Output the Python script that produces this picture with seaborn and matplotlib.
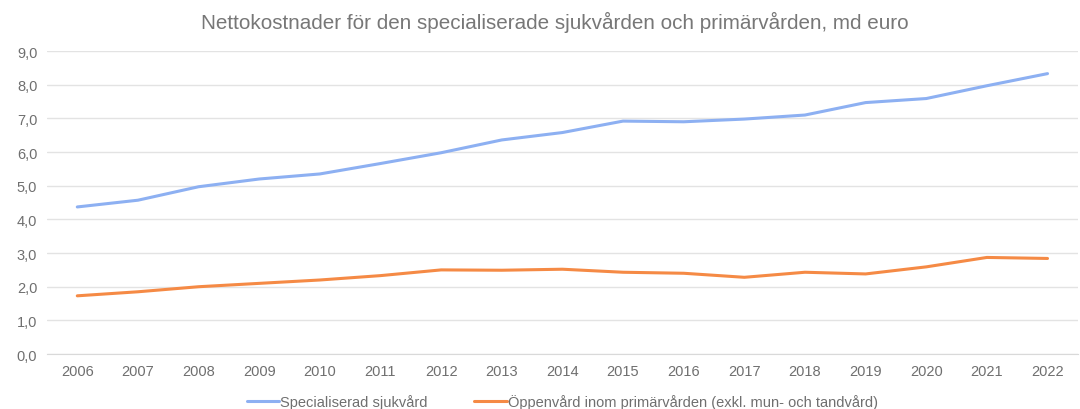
import matplotlib
matplotlib.use("Agg")
import matplotlib.pyplot as plt
import seaborn as sns
import pandas as pd

years = [str(y) for y in range(2006, 2023)]
specialiserad = [4.37, 4.57, 4.97, 5.20, 5.35, 5.66, 5.98, 6.36, 6.58, 6.92, 6.90,
                 6.98, 7.10, 7.47, 7.59, 7.97, 8.33]
oppenvard = [1.73, 1.85, 2.00, 2.10, 2.20, 2.33, 2.50, 2.49, 2.52, 2.43, 2.40,
             2.28, 2.43, 2.38, 2.59, 2.87, 2.84]

names = ["Specialiserad sjukvård",
         "Öppenvård inom primärvården (exkl. mun- och tandvård)"]
colors = ["#8DB0F2", "#F58A45"]

df = pd.DataFrame({"year": years * 2,
                   "value": specialiserad + oppenvard,
                   "serie": [names[0]] * len(years) + [names[1]] * len(years)})

sns.set_style("white")
plt.rcParams['font.family'] = ['Liberation Sans', 'DejaVu Sans']
grey = "#6f6f6f"

fig = plt.figure(figsize=(10.8, 4.1), dpi=100)
ax = fig.add_axes([0.0435, 0.134, 0.9545, 0.739])

sns.lineplot(data=df, x="year", y="value", hue="serie", palette=colors,
             linewidth=2.2, ax=ax, sort=False)

ax.set_xlim(-0.5, len(years) - 0.5)
ax.set_ylim(0, 9)
ax.set_yticks([i for i in range(10)])
ax.set_yticklabels([f"{i},0" for i in range(10)])
ax.yaxis.grid(True, color="#e3e3e3", linewidth=1)
ax.set_axisbelow(True)
for s in ["top", "right", "left"]:
    ax.spines[s].set_visible(False)
ax.spines["bottom"].set_color("#d9d9d9")
ax.tick_params(axis="both", length=0, colors=grey, labelsize=10.5, pad=7)
ax.set_xlabel("")
ax.set_ylabel("")

fig.text(0.514, 0.946, "Nettokostnader för den specialiserade sjukvården och primärvården, md euro",
         ha="center", va="center", fontsize=14.9, color="#777777")

ax.legend(loc="center", bbox_to_anchor=(0.5, -0.158), ncol=2, frameon=False,
          fontsize=10.5, handlelength=2.2, handletextpad=0.1, columnspacing=3.2,
          labelcolor=grey)

fig.savefig("out.png", dpi=100)
